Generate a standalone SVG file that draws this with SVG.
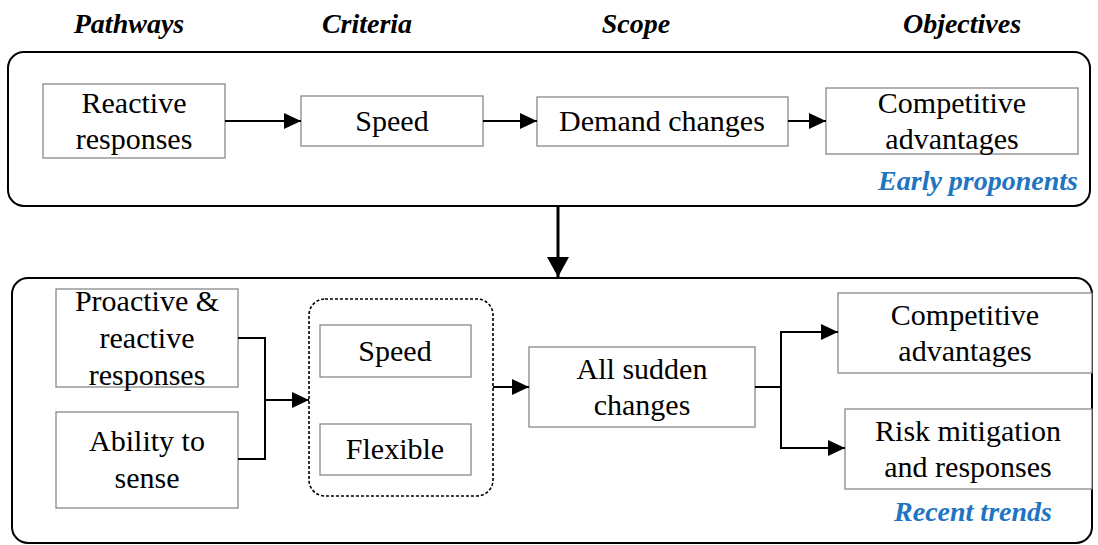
<svg xmlns="http://www.w3.org/2000/svg" width="1098" height="545" viewBox="0 0 1098 545">
<defs>
<marker id="ah" markerUnits="userSpaceOnUse" markerWidth="18" markerHeight="16" refX="17" refY="8" orient="auto">
<path d="M0,0 L17,8 L0,16 Z" fill="#000"/>
</marker>
<marker id="ah2" markerUnits="userSpaceOnUse" markerWidth="22" markerHeight="22" refX="20" refY="11" orient="auto">
<path d="M0,0 L20,11 L0,22 Z" fill="#000"/>
</marker>
</defs>

<g id="headers" text-anchor="middle">
<text style="font-family:'Liberation Serif',serif;font-size:28px;font-weight:bold;font-style:italic" x="129" y="33">Pathways</text>
<text style="font-family:'Liberation Serif',serif;font-size:28px;font-weight:bold;font-style:italic" x="367" y="33">Criteria</text>
<text style="font-family:'Liberation Serif',serif;font-size:28px;font-weight:bold;font-style:italic" x="636" y="33">Scope</text>
<text style="font-family:'Liberation Serif',serif;font-size:28px;font-weight:bold;font-style:italic" x="962" y="33">Objectives</text>
</g>

<g id="early-container">
<rect x="8" y="52" width="1082" height="154" rx="16" fill="none" stroke="#000" stroke-width="2"/>
<text style="font-family:'Liberation Serif',serif;font-size:28px;font-weight:bold;font-style:italic;fill:#1f75c1" text-anchor="end" x="1078" y="190">Early proponents</text>
</g>

<g id="recent-container">
<rect x="12" y="278" width="1080" height="265" rx="16" fill="none" stroke="#000" stroke-width="2"/>
<text style="font-family:'Liberation Serif',serif;font-size:28px;font-weight:bold;font-style:italic;fill:#1f75c1" text-anchor="middle" x="973" y="521">Recent trends</text>
</g>

<g id="nodes" text-anchor="middle">
<g id="n-reactive">
<rect x="43" y="84" width="182" height="74" fill="#fff" stroke="#7f7f7f" stroke-width="1.2"/>
<text style="font-family:'Liberation Serif',serif;font-size:30px" x="134" y="113">Reactive</text>
<text style="font-family:'Liberation Serif',serif;font-size:30px" x="134" y="149">responses</text>
</g>
<g id="n-speed1">
<rect x="301" y="96" width="182" height="50" fill="#fff" stroke="#7f7f7f" stroke-width="1.2"/>
<text style="font-family:'Liberation Serif',serif;font-size:30px" x="392" y="131">Speed</text>
</g>
<g id="n-demand">
<rect x="537" y="97" width="251" height="49" fill="#fff" stroke="#7f7f7f" stroke-width="1.2"/>
<text style="font-family:'Liberation Serif',serif;font-size:30px" x="662" y="131">Demand changes</text>
</g>
<g id="n-comp1">
<rect x="826" y="88" width="252" height="66" fill="#fff" stroke="#7f7f7f" stroke-width="1.2"/>
<text style="font-family:'Liberation Serif',serif;font-size:30px" x="952" y="113">Competitive</text>
<text style="font-family:'Liberation Serif',serif;font-size:30px" x="952" y="149">advantages</text>
</g>
<g id="n-proactive">
<rect x="56" y="289" width="182" height="98" fill="#fff" stroke="#7f7f7f" stroke-width="1.2"/>
<text style="font-family:'Liberation Serif',serif;font-size:30px" x="147" y="311">Proactive &amp;</text>
<text style="font-family:'Liberation Serif',serif;font-size:30px" x="147" y="348">reactive</text>
<text style="font-family:'Liberation Serif',serif;font-size:30px" x="147" y="385">responses</text>
</g>
<g id="n-ability">
<rect x="56" y="412" width="182" height="96" fill="#fff" stroke="#7f7f7f" stroke-width="1.2"/>
<text style="font-family:'Liberation Serif',serif;font-size:30px" x="147" y="451">Ability to</text>
<text style="font-family:'Liberation Serif',serif;font-size:30px" x="147" y="488">sense</text>
</g>
<g id="n-criteria-group">
<rect x="309" y="299" width="184" height="197" rx="16" fill="none" stroke="#000" stroke-width="1.6" stroke-dasharray="3,2"/>
</g>
<g id="n-speed2">
<rect x="320" y="325" width="151" height="52" fill="#fff" stroke="#7f7f7f" stroke-width="1.2"/>
<text style="font-family:'Liberation Serif',serif;font-size:30px" x="395" y="361">Speed</text>
</g>
<g id="n-flexible">
<rect x="320" y="424" width="151" height="51" fill="#fff" stroke="#7f7f7f" stroke-width="1.2"/>
<text style="font-family:'Liberation Serif',serif;font-size:30px" x="395" y="459">Flexible</text>
</g>
<g id="n-sudden">
<rect x="529" y="347" width="226" height="80" fill="#fff" stroke="#7f7f7f" stroke-width="1.2"/>
<text style="font-family:'Liberation Serif',serif;font-size:30px" x="642" y="379">All sudden</text>
<text style="font-family:'Liberation Serif',serif;font-size:30px" x="642" y="415">changes</text>
</g>
<g id="n-comp2">
<rect x="838" y="293" width="254" height="80" fill="#fff" stroke="#7f7f7f" stroke-width="1.2"/>
<text style="font-family:'Liberation Serif',serif;font-size:30px" x="965" y="325">Competitive</text>
<text style="font-family:'Liberation Serif',serif;font-size:30px" x="965" y="361">advantages</text>
</g>
<g id="n-risk">
<rect x="845" y="409" width="247" height="80" fill="#fff" stroke="#7f7f7f" stroke-width="1.2"/>
<text style="font-family:'Liberation Serif',serif;font-size:30px" x="968" y="441">Risk mitigation</text>
<text style="font-family:'Liberation Serif',serif;font-size:30px" x="968" y="477">and responses</text>
</g>
</g>

<g id="connectors" fill="none" stroke="#000" stroke-width="2">
<line x1="225" y1="121" x2="301" y2="121" marker-end="url(#ah)"/>
<line x1="483" y1="121" x2="537" y2="121" marker-end="url(#ah)"/>
<line x1="788" y1="121" x2="826" y2="121" marker-end="url(#ah)"/>
<line x1="558" y1="206" x2="558" y2="277" stroke-width="3" marker-end="url(#ah2)"/>
<polyline points="238,338 265,338 265,459 238,459"/>
<line x1="265" y1="400" x2="309" y2="400" marker-end="url(#ah)"/>
<line x1="493" y1="387" x2="529" y2="387" marker-end="url(#ah)"/>
<line x1="755" y1="387" x2="781" y2="387"/>
<line x1="781" y1="331" x2="781" y2="449"/>
<line x1="780" y1="332" x2="838" y2="332" marker-end="url(#ah)"/>
<line x1="780" y1="448" x2="845" y2="448" marker-end="url(#ah)"/>
</g>
</svg>
